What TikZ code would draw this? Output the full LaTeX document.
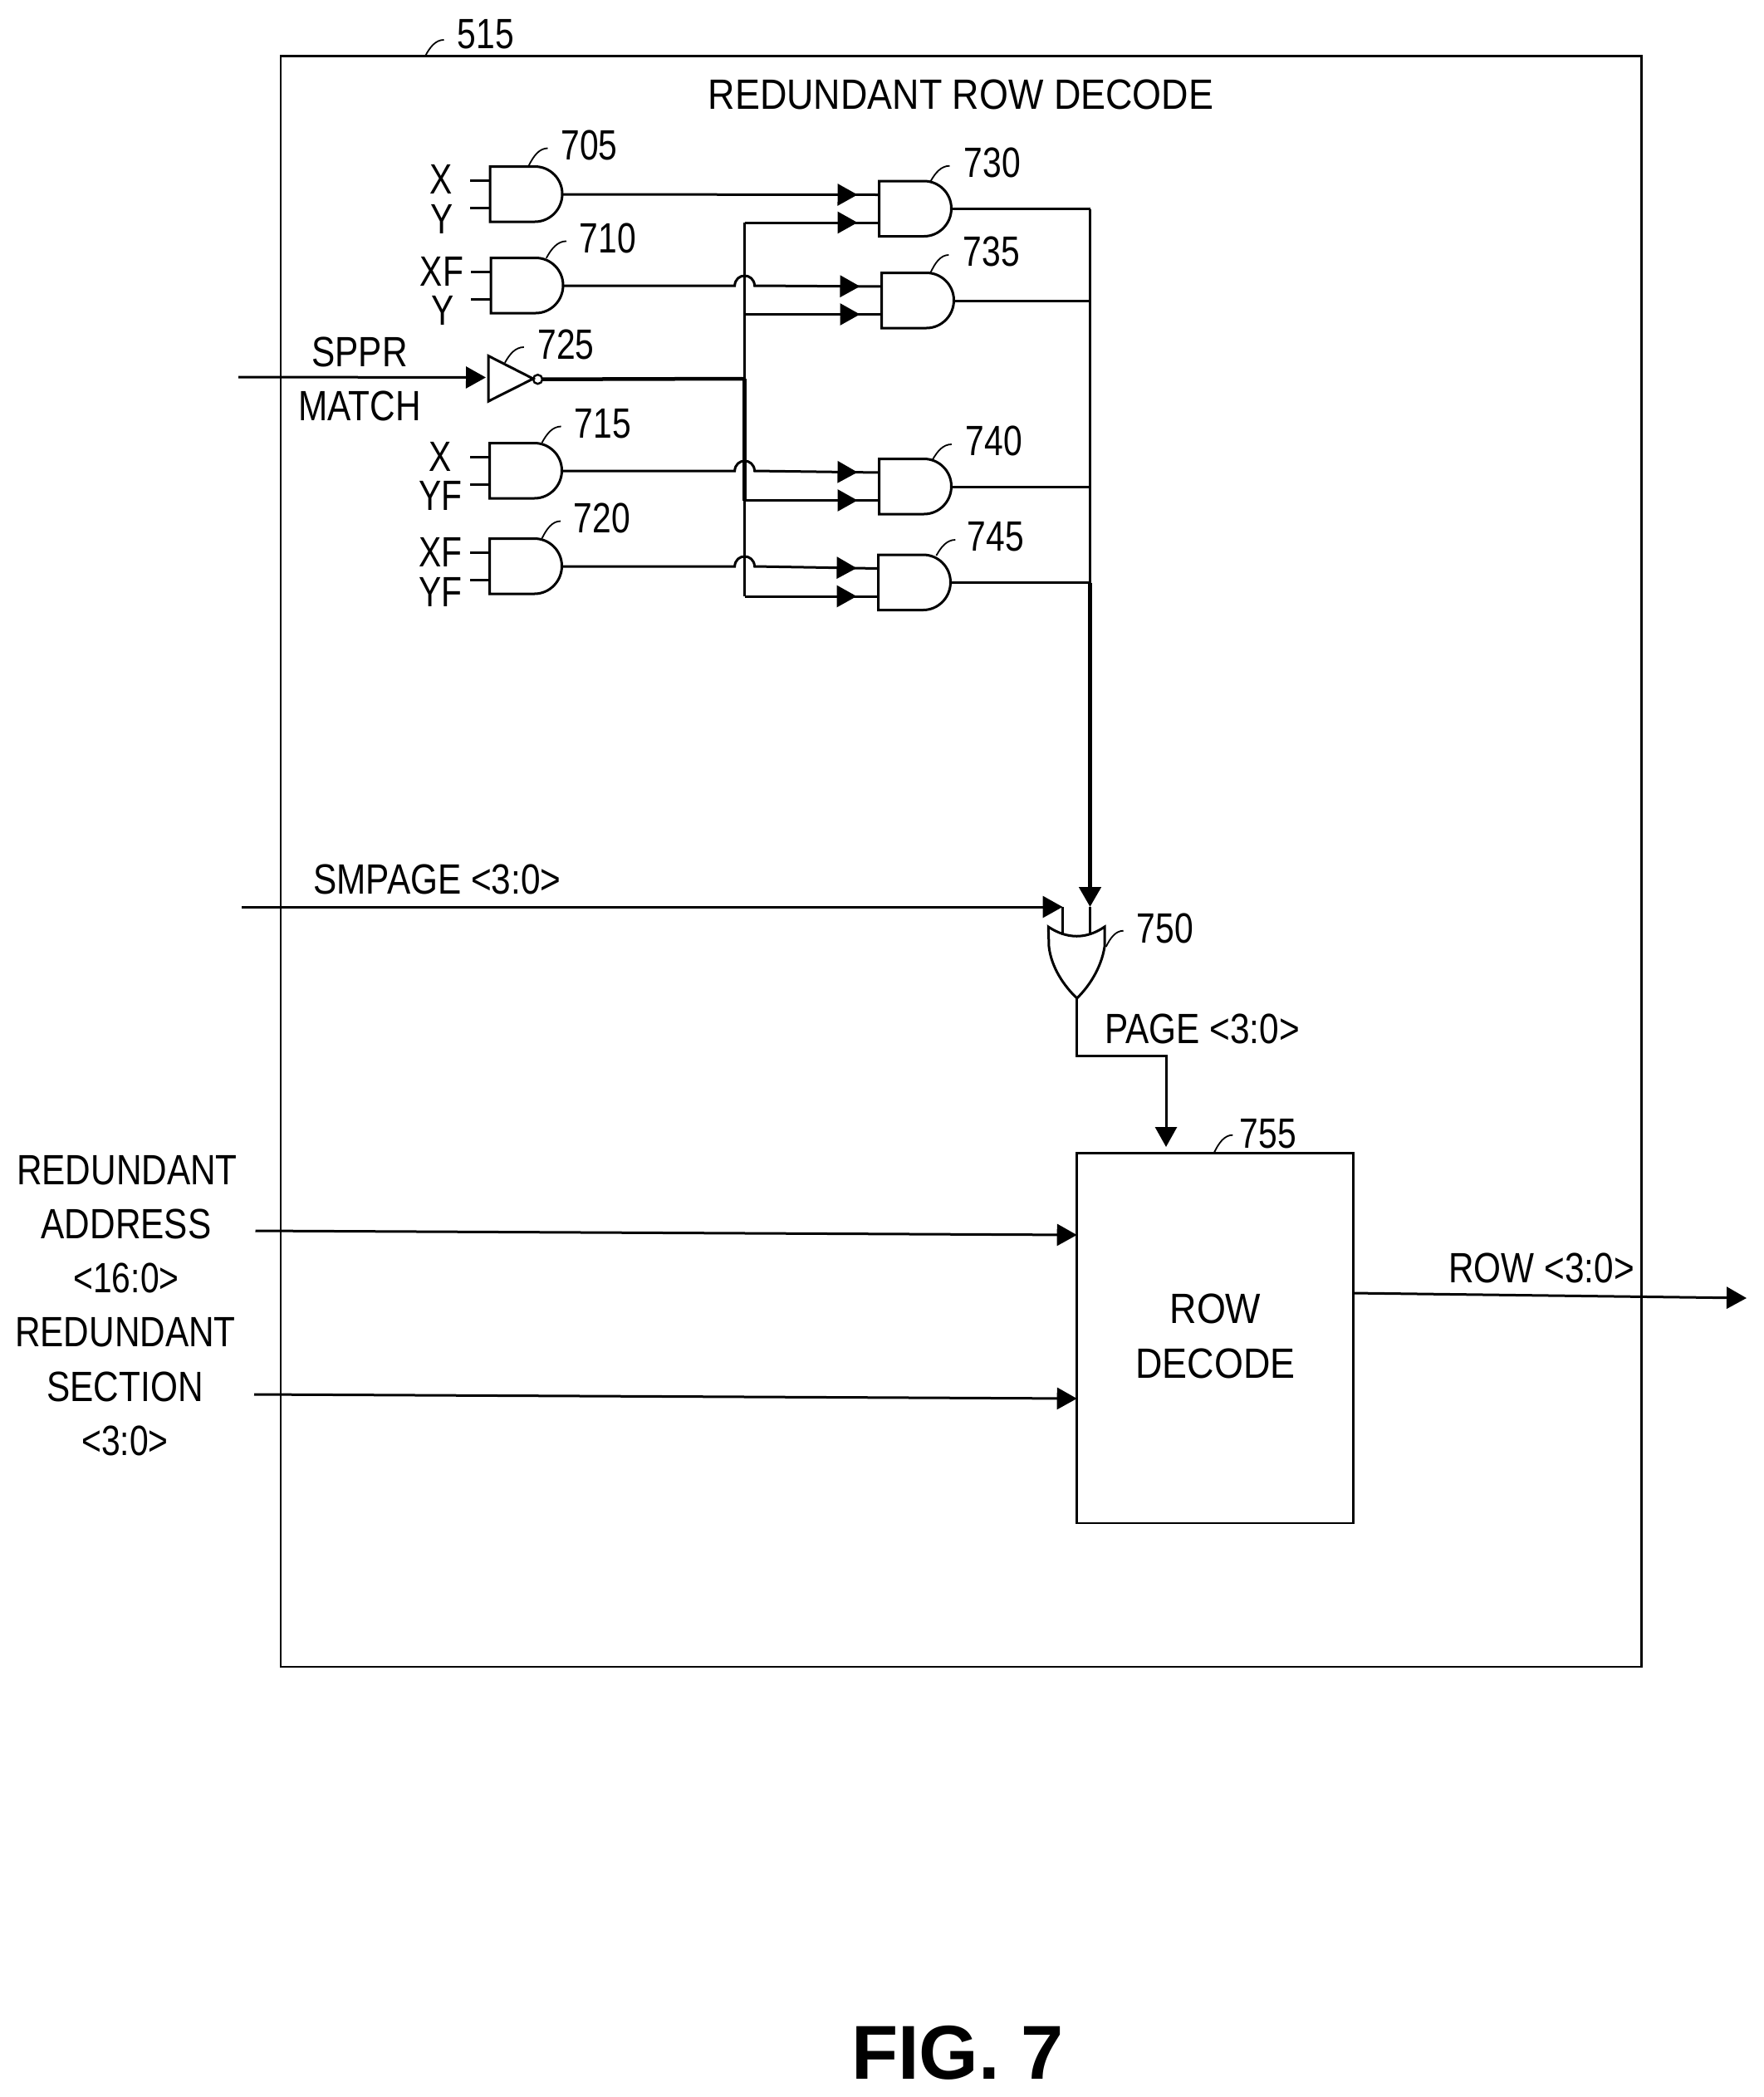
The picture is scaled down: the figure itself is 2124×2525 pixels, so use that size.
\documentclass[tikz,border=0pt]{standalone}
\usepackage{fontspec}
\setmainfont{Liberation Sans}
\newfontfamily\fa[FakeStretch=0.80]{Liberation Sans}
\newfontfamily\fb[FakeStretch=0.83]{Liberation Sans}
\newfontfamily\fc[FakeStretch=0.88]{Liberation Sans}
\newfontfamily\fd{Liberation Sans}
\usetikzlibrary{arrows.meta,calc,decorations.markings}
\newcommand\ldr[4]{\draw[leader] (#1,#2) .. controls ({#1+0.25*(#3-#1)},{#2+0.55*(#4-#2)}) and ({#1+0.55*(#3-#1)},#4) .. (#3,#4);}
\newcommand\hopwire[2]{%
  \draw[wire,midarrow] (#1) -- ($(#1 -| spine)+(-12,0)$) .. controls +(1,-16) and +(-1,-16) .. ($(#1 -| spine)+(12,0)$) -- (#2);}
\tikzset{
  wire/.style={line width=3pt},
  leader/.style={line width=1.8pt},
  tip/.style={-{Triangle[length=24pt,width=26pt]}},
  midarrow/.style={postaction={decorate},decoration={markings,mark=at position -26pt with {\arrow{Triangle[length=24pt,width=26pt]}}}},
  lbl/.style={inner sep=0pt,text height=37pt,text depth=0pt,font=\fontsize{51}{60}\fa},
  lblb/.style={lbl,font=\fontsize{51}{60}\fb},
  lblc/.style={lbl,font=\fontsize{51}{60}\fc},
  andg/.pic={
    \draw[line width=3pt] (0,0) -- (54,0) .. controls (72.2,0) and (87,14.8) .. (87,33)
      .. controls (87,51.5) and (72.2,66.5) .. (54,66.5) -- (0,66.5) -- cycle;
    \coordinate (-in1) at (0,16.5);
    \coordinate (-in2) at (0,50);
    \coordinate (-out) at (87,33.5);
  }
}
\begin{document}
\begin{tikzpicture}[x=1pt,y=-1pt]
\fill[white,use as bounding box] (0,0) rectangle (2124,2525);

% frame
\node[draw,line width=2.5pt,minimum width=1638.5pt,minimum height=1939.5pt,anchor=north west,inner sep=0pt,outer sep=0pt] (frame) at (338,67.6) {};
\node[lbl] (n515) at (585,40) {515};
\ldr{512}{67.6}{534.5}{48}
\node[lblc] (title) at (1157,113) {REDUNDANT ROW DECODE};

% gates
\pic (g705) at (590,200.5) {andg};
\pic (g710) at (591,310.5) {andg};
\pic (g715) at (589.5,533.5) {andg};
\pic (g720) at (589.5,648.5) {andg};
\pic (g730) at (1058.5,218) {andg};
\pic (g735) at (1061.5,328.5) {andg};
\pic (g740) at (1058.5,552.5) {andg};
\pic (g745) at (1057.5,668) {andg};

% labels of gates
\node[lbl] (n705) at (709.5,173.5) {705};
\node[lbl] (n710) at (732,285.5) {710};
\node[lbl] (n715) at (726,509) {715};
\node[lbl] (n720) at (725,623) {720};
\node[lbl] (n725) at (681.5,414) {725};
\node[lbl] (n730) at (1195,195) {730};
\node[lbl] (n735) at (1194,302) {735};
\node[lbl] (n740) at (1197,530) {740};
\node[lbl] (n745) at (1199,645) {745};
\ldr{636.6}{199.6}{659.5}{178.5}
\ldr{657.8}{310.8}{682}{290.4}
\ldr{607.9}{436.8}{630.8}{418}
\ldr{652.6}{533}{675.6}{513.5}
\ldr{652.6}{648.2}{675}{627.5}
\ldr{1120.5}{218.3}{1143.5}{199.7}
\ldr{1120.5}{328.2}{1142.3}{307}
\ldr{1122.8}{553.7}{1145.8}{535}
\ldr{1127.4}{669}{1150.3}{650}

% input letters
\node[lbl] (ax) at (531,215) {X};
\node[lbl] (ay) at (532,262.7) {Y};
\node[lbl] (bx) at (532,325.7) {XF};
\node[lbl] (by) at (533,372.5) {Y};
\node[lbl] (cx) at (530.4,548.7) {X};
\node[lbl] (cy) at (530.4,596.4) {YF};
\node[lbl] (dx) at (530.4,664) {XF};
\node[lbl] (dy) at (530.4,712) {YF};
\foreach \g in {g705,g710,g715,g720}{
  \draw[wire] (\g-in1) -- ++(-24,0);
  \draw[wire] (\g-in2) -- ++(-24,0);
}

% inverter
\draw[line width=3pt] (588,428.5) -- (642,456) -- (588,483.2) -- cycle;
\node[draw,circle,line width=2.4pt,minimum size=11pt,inner sep=0pt,outer sep=0pt] (bub) at (647.5,456.7) {};
\coordinate (invin) at (585,454.5);
\coordinate (spprstart) at (287,454);
\draw[wire,tip] (spprstart) -- (invin);
\node[lblb] (sppr) at (433,423) {SPPR};
\node[lblb] (match) at (433,488) {MATCH};

% spine
\coordinate (spine) at (896.6,456);
\draw[line width=4.5pt] (bub.east) -- (spine);
\draw[wire] (g730-in2 -| spine) -- (g745-in2 -| spine);
\draw[line width=4.5pt] (spine) -- (g740-in2 -| spine);
\draw[wire,midarrow] (g705-out) -- (g730-in1);
\draw[wire,midarrow] (g730-in2 -| spine) -- (g730-in2);
\draw[wire,midarrow] (g735-in2 -| spine) -- (g735-in2);
\draw[wire,midarrow] (g740-in2 -| spine) -- (g740-in2);
\draw[wire,midarrow] (g745-in2 -| spine) -- (g745-in2);
\hopwire{g710-out}{g735-in1}
\hopwire{g715-out}{g740-in1}
\hopwire{g720-out}{g745-in1}

% bus
\coordinate (bus) at (1312.5,1092);
\foreach \g in {g730,g735,g740,g745}{
  \draw[wire] (\g-out) -- (\g-out -| bus);
}
\draw[wire] (g730-out -| bus) -- (g745-out -| bus);
\draw[line width=5pt,tip] (g745-out -| bus) -- (bus);

% OR gate
\draw[line width=3pt] (1262.3,1116) .. controls (1285,1131) and (1308,1131) .. (1330,1116)
  -- (1330,1140) .. controls (1326,1165) and (1312,1187) .. (1296.7,1202)
  .. controls (1281,1187) and (1266,1165) .. (1263,1140) -- cycle;
\coordinate (orin1) at (1279.5,1126);
\coordinate (orin2) at (1312.5,1125);
\coordinate (orout) at (1296.7,1202);
\draw[wire] (bus) -- (orin2);
\coordinate (smstart) at (291,1092);
\draw[wire,tip] (smstart) -- (smstart -| orin1);
\draw[wire] (smstart -| orin1) -- (orin1);
\node[lblb] (smpage) at (526.5,1058) {SMPAGE <3:0>};
\node[lbl] (n750) at (1403,1116.7) {750};
\ldr{1331.7}{1140}{1352.7}{1120.7}

% row decode box
\node[draw,line width=2.5pt,minimum width=333pt,minimum height=445.7pt,anchor=north west,inner sep=0pt,outer sep=0pt] (rowbox) at (1296.7,1388.3) {};
\node[lblc] (rowt) at (1463.5,1575) {ROW};
\node[lblc] (dect) at (1463.5,1641) {DECODE};
\coordinate (pagetip) at (1404,1381);
\draw[wire,tip] (orout) -- (orout |- 0,1271.7) -| (pagetip);
\node[lblb] (page) at (1447.5,1238) {PAGE <3:0>};
\node[lbl] (n755) at (1526.7,1364) {755};
\ldr{1461.7}{1388.3}{1484.3}{1366.7}

% left signals
\node[lblb] (ra1) at (153,1408) {REDUNDANT};
\node[lblb] (ra2) at (152,1473) {ADDRESS};
\node[lbl] (ra3) at (152,1538) {<16:0>};
\node[lblb] (rs1) at (151,1603) {REDUNDANT};
\node[lblb] (rs2) at (150.5,1669) {SECTION};
\node[lbl] (rs3) at (150.5,1734) {<3:0>};
\coordinate (addrs) at (307.5,1482);
\coordinate (addre) at (1296.7,1487);
\coordinate (sects) at (306,1679);
\coordinate (secte) at (1296.7,1684);
\draw[wire,tip] (addrs) -- (addre);
\draw[wire,tip] (sects) -- (secte);

% output
\coordinate (rowout) at (1629,1557);
\coordinate (rowend) at (2103,1563);
\draw[wire,tip] (rowout) -- (rowend);
\node[lblb] (rowl) at (1856,1526) {ROW <3:0>};

% caption
\node[inner sep=0pt,font=\fontsize{92}{100}\fd\bfseries,text height=66pt,text depth=0pt] (fig) at (1153,2470) {FIG. 7};
\end{tikzpicture}
\end{document}
